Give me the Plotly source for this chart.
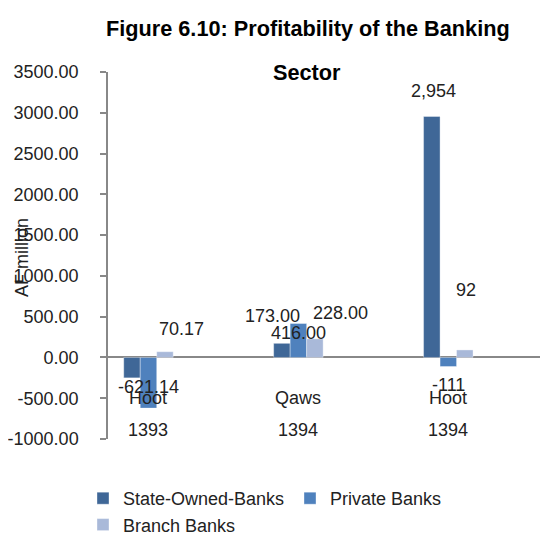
import plotly.graph_objects as go

categories = ["Hoot", "Qaws", "Hoot"]
years = ["1393", "1394", "1394"]
state_owned = [-250.16, 173.00, 2954]
private_banks = [-621.14, 416.00, -111]
branch_banks = [70.17, 228.00, 92]

label_state = ["-250.16", "173.00", "2,954"]
label_private = ["-621.14", "416.00", "-111"]
label_branch = ["70.17", "228.00", "92"]

y_ticks = [-1000, -500, 0, 500, 1000, 1500, 2000, 2500, 3000, 3500]

# label placement (data units), as in the original chart
lab_pos_state = [(-0.09, -1033), (0.83, 511), (1.90, 3268)]
lab_pos_private = [(0.003, -359), (1.00, 303), (2.0, -334)]
lab_pos_branch = [(0.22, 343), (1.28, 548), (2.116, 826)]

colors = ["#3F6797", "#4F81BD", "#A9B9D9"]
FONT = "Liberation Sans, Arial, sans-serif"
TXT = "#222222"

# The page body has an 8px margin; figure is sized so it fills the window.
OFF = 8
W, H = 548 - OFF, 535 - OFF
L, R, T, B = 108 - OFF, 0, 72 - OFF, 96
PW, PH = W - L - R, H - T - B


def px_to_paper(px, py):
    """window pixel -> paper coordinates"""
    return (px - OFF - L) / PW, (H - B - (py - OFF)) / PH


x_idx = list(range(len(categories)))

fig = go.Figure()
for name, vals, col in [("State-Owned-Banks", state_owned, colors[0]),
                        ("Private Banks", private_banks, colors[1]),
                        ("Branch Banks", branch_banks, colors[2])]:
    fig.add_trace(go.Bar(x=x_idx, y=vals, name=name, marker_color=col,
                         marker_line=dict(color="rgba(255,255,255,0.6)", width=0.6)))

annotations = []
for labs, poss in [(label_state, lab_pos_state), (label_private, lab_pos_private),
                   (label_branch, lab_pos_branch)]:
    for t, (px, py) in zip(labs, poss):
        annotations.append(dict(x=px, y=py, xref="x", yref="y", text=t, showarrow=False,
                                font=dict(size=18, color=TXT, family=FONT)))

for i, (c, yv) in enumerate(zip(categories, years)):
    annotations.append(dict(x=i, y=-493, xref="x", yref="y", text=c, showarrow=False,
                            font=dict(size=18, color=TXT, family=FONT)))
    annotations.append(dict(x=i, y=-892, xref="x", yref="y", text=yv, showarrow=False,
                            font=dict(size=18, color=TXT, family=FONT)))

tx, ty = px_to_paper(307.5, 29)
annotations.append(dict(x=tx, y=ty, xref="paper", yref="paper",
                        text="<b>Figure 6.10: Profitability of the Banking</b>",
                        showarrow=False, font=dict(size=21.7, color="#000000", family=FONT),
                        xanchor="center", yanchor="middle"))
sx, sy = px_to_paper(307, 72)
annotations.append(dict(x=sx, y=sy, xref="paper", yref="paper",
                        text="<b>Sector</b>",
                        showarrow=False, font=dict(size=21.7, color="#000000", family=FONT),
                        xanchor="center", yanchor="middle"))
ax_, ay_ = px_to_paper(22, 258)
annotations.append(dict(x=ax_, y=ay_, xref="paper", yref="paper",
                        text="AF million", textangle=-90,
                        showarrow=False, font=dict(size=18, color=TXT, family=FONT),
                        xanchor="center", yanchor="middle"))

fig.update_layout(
    width=W, height=H,
    margin=dict(l=L, r=R, t=T, b=B, autoexpand=False),
    plot_bgcolor="white", paper_bgcolor="white",
    barmode="group", bargap=0.67, bargroupgap=0,
    font=dict(family=FONT, size=18, color=TXT),
    showlegend=True,
    legend=dict(orientation="h", xref="container", yref="container",
                x=75 / W, y=1 - 472 / H, xanchor="left", yanchor="top",
                font=dict(size=18, family=FONT, color=TXT),
                itemwidth=30, entrywidth=162, tracegroupgap=0,
                traceorder="normal"),
    xaxis=dict(range=[-0.27, 2.665], showticklabels=False, ticks="", showgrid=False,
               zeroline=False, showline=False),
    yaxis=dict(range=[-1000, 3500], tickvals=y_ticks,
               ticktext=[f"{v:.2f}" for v in y_ticks],
               ticks="outside", ticklen=6, tickcolor="#888888", tickwidth=1.5,
               showline=True, linecolor="#888888", linewidth=1.5, showgrid=False,
               zeroline=True, zerolinecolor="#888888", zerolinewidth=2,
               tickfont=dict(size=18, family=FONT, color=TXT),
               ticklabelstandoff=18),
    annotations=annotations,
)

fig.write_html("out.html")
